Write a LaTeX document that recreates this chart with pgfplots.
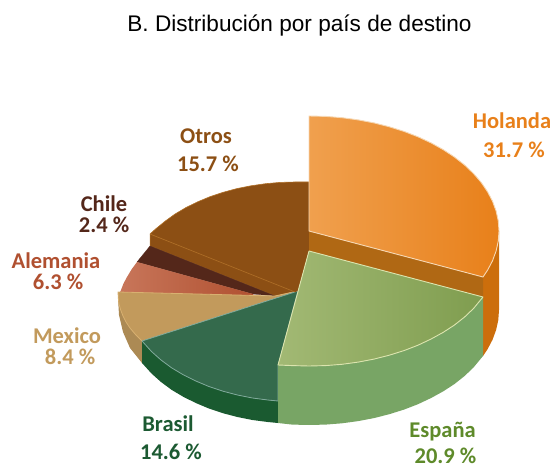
\documentclass[border=0pt]{standalone}
\usepackage{pgfplots}
\pgfplotsset{compat=1.18}
\usepackage{fontspec}
\setmainfont{Carlito}
\newfontfamily\titlefont{Liberation Sans}
\definecolor{hol}{HTML}{E8801A}\definecolor{holL}{HTML}{F0A04E}\definecolor{holM}{HTML}{EE9A48}
\definecolor{holW}{HTML}{CC6E0C}\definecolor{holI}{HTML}{B06814}\definecolor{holE}{HTML}{F6D8B4}
\definecolor{espL}{HTML}{A2B974}\definecolor{espM}{HTML}{98B26A}\definecolor{espR}{HTML}{7F9D4F}
\definecolor{espW}{HTML}{78A565}\definecolor{espE}{HTML}{DCE4AE}\definecolor{espT}{HTML}{5E8A2A}
\definecolor{braT}{HTML}{346A4C}\definecolor{braW}{HTML}{1A5A30}\definecolor{braE}{HTML}{7FA99A}\definecolor{braX}{HTML}{1C5A32}
\definecolor{mex}{HTML}{C29A5C}\definecolor{mexW}{HTML}{AC8A54}\definecolor{mexE}{HTML}{D8B070}
\definecolor{aleL}{HTML}{C8765A}\definecolor{aleR}{HTML}{B05030}
\definecolor{chi}{HTML}{54271A}
\definecolor{otr}{HTML}{8C4F14}\definecolor{otrE}{HTML}{B07028}
\begin{document}
\begin{tikzpicture}
\useasboundingbox (0,0) rectangle (554pt,465pt);
\begin{axis}[
  at={(0,0)}, anchor=south west,
  scale only axis, width=554pt, height=465pt,
  xmin=0, xmax=554, ymin=0, ymax=465, y dir=reverse,
  hide axis, clip=false, no markers,
  every axis plot/.append style={line join=round},
]
% Otros wall
\addplot[fill=otr,draw=otrE,line width=0.5pt] coordinates {(150,234)(150,246)(275,296)(297,291)} --cycle;
% Chile
\addplot[fill=chi,draw=chi,line width=0.3pt] coordinates {(137,262)(150,246)(275,296)(253,294)} --cycle;
% Alemania
\addplot[left color=aleL,right color=aleR,draw=none] coordinates {(119,294)(121,290)(123.5,283.5)(127,277)(131.5,269.5)(137,262)(253,294)(255,297)} --cycle;
% Mexico wall
\addplot[fill=mexW,draw=none] coordinates {(118,292)(118,298)(119,315)(123,332)(130,348)(142,363)(142,341)(130,328)} --cycle;
% Mexico top
\addplot[fill=mex,draw=mexE,line width=0.8pt] coordinates {(118,292)(118.3,298)(119,304)(120.7,310)(123,316)(126,322)(130,328)(135.5,334.5)(142,341)(298,291)(275,296)} --cycle;
% Brasil wall
\addplot[fill=braW,draw=none] coordinates {(142,341)(142,363)(151.5,373.5)(161,382)(171.7,389.9)(183.3,396.8)(195.8,403)(209.1,408.6)(222.9,413.2)(237.4,417)(252.4,420)(267.7,422)(278,423)(278,401)(267.7,400)(252.4,398)(237.4,395)(222.9,391.2)(209.1,386.6)(195.8,381)(183.3,374.8)(171.7,367.9)(161,360)(151.5,351.5)} --cycle;
% Brasil top
\addplot[fill=braT,draw=braE,line width=0.8pt] coordinates {(142,341)(151.5,351.5)(161,360)(171.7,367.9)(183.3,374.8)(195.8,381)(209.1,386.6)(222.9,391.2)(237.4,395)(252.4,398)(267.7,400)(278,401)(278,366)(298,291)} --cycle;
% Otros top
\addplot[fill=otr,draw=none] coordinates {(150,234)(155.7,228.9)(165,221.3)(174.8,214.2)(185.7,207.7)(197.5,201.9)(210,196.7)(223.2,192.3)(236.9,188.6)(251,185.8)(265.5,183.7)(280.2,182.4)(295,182)(309,182)(309,251)(298,291)(295,292)} --cycle;
\addplot[draw=otrE,line width=0.6pt] coordinates {(150,234)(155.7,228.9)(165,221.3)(174.8,214.2)(185.7,207.7)(197.5,201.9)(210,196.7)(223.2,192.3)(236.9,188.6)(251,185.8)(265.5,183.7)(280.2,182.4)(295,182)(309,182)};
\addplot[draw=otrE,line width=0.6pt] coordinates {(150,234)(295,292)};
% Holanda outer wall
\addplot[fill=holW,draw=none] coordinates {(483,277)(487.5,270.3)(492.5,260.8)(496.1,251)(498.3,241)(499,231)(499,310)(498.3,320)(496.1,330)(492.5,339.8)(487.5,349.3)(483,356)} --cycle;
% Holanda inner wall
\addplot[fill=holI,draw=none] coordinates {(309,231)(309,251)(483,298)(483,277)} --cycle;
% Espana wall
\addplot[fill=espW,draw=none] coordinates {(483,297)(473.5,308.5)(464.6,317)(454.5,325)(443.3,332.3)(431.1,339)(418,345.2)(404,350.6)(389.3,355.2)(374,359.1)(358.2,362.1)(342,364.3)(325.6,365.6)(309,366)(292.4,365.6)(278,365)(278,423)(292.4,424.6)(309,425)(325.6,424.6)(342,423.3)(358.2,421.1)(374,418.1)(389.3,414.2)(404,409.6)(418,404.2)(431.1,398)(443.3,391.3)(454.5,384)(464.6,376)(473.5,367.5)(483,356)} --cycle;
% Espana top
\addplot[left color=espL,middle color=espM,right color=espR,draw=espE,line width=0.9pt] coordinates {(309,251)(483,297)(473.5,308.5)(464.6,317)(454.5,325)(443.3,332.3)(431.1,339)(418,345.2)(404,350.6)(389.3,355.2)(374,359.1)(358.2,362.1)(342,364.3)(325.6,365.6)(309,366)(292.4,365.6)(278,365)} --cycle;
% Holanda top
\addplot[left color=holL,middle color=holM,right color=hol,draw=holE,line width=0.9pt] coordinates {(309,231)(309,116)(325.6,116.4)(342,117.7)(358.2,119.9)(374,122.9)(389.3,126.8)(404,131.4)(418,136.8)(431.1,142.9)(443.3,149.7)(454.5,157.1)(464.6,165)(473.5,173.5)(481.2,182.4)(487.5,191.7)(492.5,201.2)(496.1,211)(498.3,221)(499,231)(498.3,241)(496.1,251)(492.5,260.8)(487.5,270.3)(483,277)} --cycle;
% Labels
\node[font=\titlefont\fontsize{22.6}{26}\selectfont,text=black] at (axis cs:299.5,26) {B. Distribución por país de destino};
\def\lab#1#2#3#4{\node[inner sep=0pt,font=\bfseries\fontsize{22.5}{26}\selectfont,text=#4] at (axis cs:#1,#2) {#3};}
\lab{512}{121}{Holanda}{hol}
\lab{514}{150}{31.7 \%}{hol}
\lab{442.5}{432}{España}{espT}
\lab{445.5}{455.5}{20.9 \%}{espT}
\lab{168}{424}{Brasil}{braX}
\lab{171}{452}{14.6 \%}{braX}
\lab{67}{336}{Mexico}{mex}
\lab{70}{357}{8.4 \%}{mex}
\lab{56}{261}{Alemania}{aleR}
\lab{58}{282}{6.3 \%}{aleR}
\lab{104}{204}{Chile}{chi}
\lab{104}{225}{2.4 \%}{chi}
\lab{206}{136}{Otros}{otr}
\lab{208}{164}{15.7 \%}{otr}
\end{axis}
\end{tikzpicture}
\end{document}
